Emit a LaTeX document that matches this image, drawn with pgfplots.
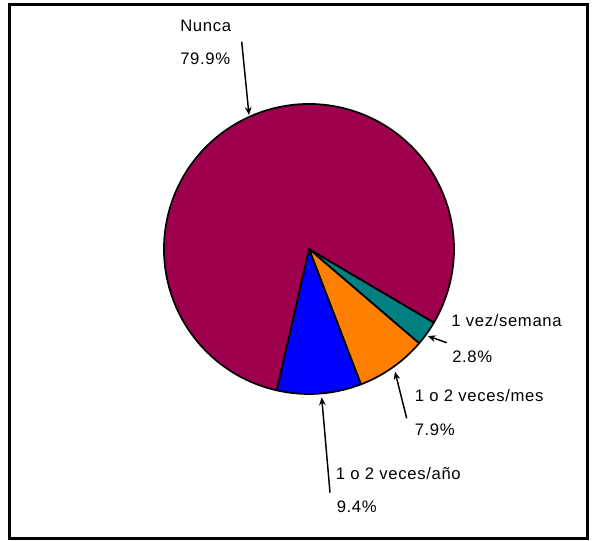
\documentclass[border=0pt]{standalone}
\usepackage{fontspec}
\setmainfont{Liberation Sans}
\newfontfamily\lblfont[LetterSpace=4]{Liberation Sans}
\usepackage{pgfplots}
\pgfplotsset{compat=1.18}
\usepackage{pgfplotstable}
\usetikzlibrary{arrows.meta}
\definecolor{cnunca}{RGB}{158,0,78}
\definecolor{csemana}{RGB}{0,128,128}
\definecolor{cmes}{RGB}{255,128,0}
\definecolor{canio}{RGB}{0,0,255}

\pgfplotstableread{
label pct
semana 2.8
mes 7.9
anio 9.4
nunca 79.9
}\piedata

\begin{document}
\begin{tikzpicture}
\pgfplotstablegetelem{0}{pct}\of\piedata \let\pa\pgfplotsretval
\pgfplotstablegetelem{1}{pct}\of\piedata \let\pb\pgfplotsretval
\pgfplotstablegetelem{2}{pct}\of\piedata \let\pc\pgfplotsretval
\pgfplotstablegetelem{3}{pct}\of\piedata \let\pd\pgfplotsretval
\pgfmathsetmacro\aA{-30.5}
\pgfmathsetmacro\aB{\aA-3.6*\pa}
\pgfmathsetmacro\aC{\aB-3.6*\pb}
\pgfmathsetmacro\aD{\aC-3.6*\pc}
\pgfmathsetmacro\aE{\aD-3.6*\pd}
\begin{axis}[x=0.75pt,y=0.75pt,
  xmin=9.5,xmax=587.5,ymin=2.5,ymax=536,
  xtick=\empty,ytick=\empty,
  axis line style={line width=2.25pt},
  clip=false]
\path (axis cs:0,0) rectangle (axis cs:593,541);
\filldraw[fill=csemana,line width=1.3pt,line join=round] (axis cs:309,292) -- ++(\aA:108.75pt) arc[start angle=\aA,end angle=\aB,radius=108.75pt] -- cycle;
\filldraw[fill=cmes,line width=1.3pt,line join=round] (axis cs:309,292) -- ++(\aB:108.75pt) arc[start angle=\aB,end angle=\aC,radius=108.75pt] -- cycle;
\filldraw[fill=canio,line width=1.3pt,line join=round] (axis cs:309,292) -- ++(\aC:108.75pt) arc[start angle=\aC,end angle=\aD,radius=108.75pt] -- cycle;
\filldraw[fill=cnunca,line width=1.3pt,line join=round] (axis cs:309,292) -- ++(\aD:108.75pt) arc[start angle=\aD,end angle=\aE,radius=108.75pt] -- cycle;
\begin{scope}[every node/.style={anchor=base west,inner sep=0pt,font=\lblfont\fontsize{12.5}{15}\selectfont}]
\node at (axis cs:180,509) {Nunca};
\node at (axis cs:180,476) {79.9\%};
\node at (axis cs:451,214.5) {1 vez/semana};
\node at (axis cs:452,178.5) {2.8\%};
\node at (axis cs:414.5,139) {1 o 2 veces/mes};
\node at (axis cs:414.5,105) {7.9\%};
\node at (axis cs:335.5,61) {1 o 2 veces/año};
\node at (axis cs:336.5,28) {9.4\%};
\end{scope}
\begin{scope}[line width=1.1pt,-{Stealth[length=6pt,width=5pt]}]
\draw (axis cs:241.7,499.3) -- (axis cs:249,426);
\draw (axis cs:446.7,198.3) -- (axis cs:427.7,205);
\draw (axis cs:406.7,122.7) -- (axis cs:395,169.3);
\draw (axis cs:330,48.3) -- (axis cs:321.7,143.7);
\end{scope}
\end{axis}
\end{tikzpicture}
\end{document}
